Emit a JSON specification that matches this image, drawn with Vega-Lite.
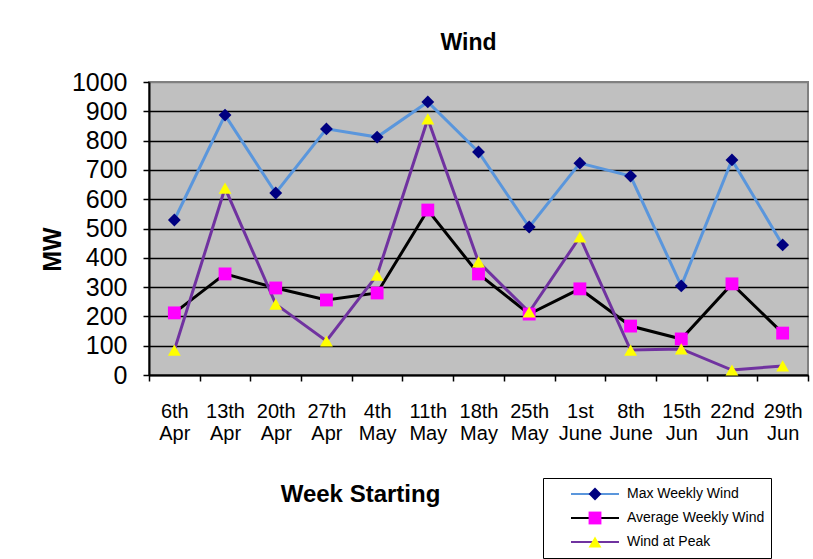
{
  "$schema": "https://vega.github.io/schema/vega-lite/v6.json",
  "width": 659,
  "height": 293,
  "autosize": {"type": "none"},
  "padding": {"left": 149, "top": 82, "right": 5, "bottom": 184},
  "background": "white",
  "title": {"text": "Wind", "font": "Liberation Sans", "fontSize": 23, "fontWeight": "bold", "color": "black", "anchor": "middle", "baseline": "alphabetic", "offset": -3, "dx": -10},
  "config": {
    "font": "Liberation Sans",
    "view": {"fill": "#C0C0C0", "stroke": "#808080", "strokeWidth": 2}
  },
  "datasets": {
    "wind": [
      {"week": "6th Apr", "series": "Max Weekly Wind", "value": 529},
      {"week": "13th Apr", "series": "Max Weekly Wind", "value": 887},
      {"week": "20th Apr", "series": "Max Weekly Wind", "value": 621},
      {"week": "27th Apr", "series": "Max Weekly Wind", "value": 840},
      {"week": "4th May", "series": "Max Weekly Wind", "value": 812},
      {"week": "11th May", "series": "Max Weekly Wind", "value": 932},
      {"week": "18th May", "series": "Max Weekly Wind", "value": 761},
      {"week": "25th May", "series": "Max Weekly Wind", "value": 505},
      {"week": "1st June", "series": "Max Weekly Wind", "value": 723},
      {"week": "8th June", "series": "Max Weekly Wind", "value": 679},
      {"week": "15th Jun", "series": "Max Weekly Wind", "value": 304},
      {"week": "22nd Jun", "series": "Max Weekly Wind", "value": 734},
      {"week": "29th Jun", "series": "Max Weekly Wind", "value": 444},
      {"week": "6th Apr", "series": "Average Weekly Wind", "value": 212},
      {"week": "13th Apr", "series": "Average Weekly Wind", "value": 345},
      {"week": "20th Apr", "series": "Average Weekly Wind", "value": 297},
      {"week": "27th Apr", "series": "Average Weekly Wind", "value": 256},
      {"week": "4th May", "series": "Average Weekly Wind", "value": 280},
      {"week": "11th May", "series": "Average Weekly Wind", "value": 563},
      {"week": "18th May", "series": "Average Weekly Wind", "value": 345},
      {"week": "25th May", "series": "Average Weekly Wind", "value": 208},
      {"week": "1st June", "series": "Average Weekly Wind", "value": 294},
      {"week": "8th June", "series": "Average Weekly Wind", "value": 167},
      {"week": "15th Jun", "series": "Average Weekly Wind", "value": 123},
      {"week": "22nd Jun", "series": "Average Weekly Wind", "value": 311},
      {"week": "29th Jun", "series": "Average Weekly Wind", "value": 143},
      {"week": "6th Apr", "series": "Wind at Peak", "value": 85},
      {"week": "13th Apr", "series": "Wind at Peak", "value": 638},
      {"week": "20th Apr", "series": "Wind at Peak", "value": 242},
      {"week": "27th Apr", "series": "Wind at Peak", "value": 116},
      {"week": "4th May", "series": "Wind at Peak", "value": 341},
      {"week": "11th May", "series": "Wind at Peak", "value": 874},
      {"week": "18th May", "series": "Wind at Peak", "value": 386},
      {"week": "25th May", "series": "Wind at Peak", "value": 215},
      {"week": "1st June", "series": "Wind at Peak", "value": 471},
      {"week": "8th June", "series": "Wind at Peak", "value": 85},
      {"week": "15th Jun", "series": "Wind at Peak", "value": 89},
      {"week": "22nd Jun", "series": "Wind at Peak", "value": 17},
      {"week": "29th Jun", "series": "Wind at Peak", "value": 31}
    ]
  },
  "data": {"name": "wind"},
  "encoding": {
    "x": {
      "field": "week", "type": "nominal", "sort": null,
      "scale": {"paddingInner": 0, "paddingOuter": 0},
      "axis": {
        "title": "Week Starting",
        "titleFont": "Liberation Sans", "titleFontSize": 24, "titleFontWeight": "bold", "titleColor": "black",
        "titleX": 211, "titleY": 119, "titleAlign": "center", "titleBaseline": "middle", "titleAnchor": null,
        "labelAngle": 0, "labelFontSize": 20, "labelColor": "black", "labelLineHeight": 22,
        "labelExpr": "split(datum.label, ' ')", "labelPadding": 20,
        "tickBand": "extent", "tickSize": 6, "tickColor": "black", "tickWidth": 1.5,
        "domainColor": "black", "domainWidth": 2, "grid": false
      }
    },
    "y": {
      "field": "value", "type": "quantitative",
      "scale": {"domain": [0, 1000], "nice": false},
      "axis": {
        "title": "MW",
        "titleFont": "Liberation Sans", "titleFontSize": 25, "titleFontWeight": "bold", "titleColor": "black",
        "titleX": -97, "titleY": 167, "titleAngle": 270, "titleAlign": "center", "titleBaseline": "middle",
        "values": [0, 100, 200, 300, 400, 500, 600, 700, 800, 900, 1000],
        "format": "d",
        "labelFontSize": 25, "labelColor": "black", "labelPadding": 16,
        "tickSize": 6, "tickColor": "black", "tickWidth": 1.5,
        "domainColor": "black", "domainWidth": 2,
        "grid": true,
        "gridColor": {"condition": {"test": "datum.value >= 1000", "value": "#808080"}, "value": "black"},
        "gridWidth": 1.5, "gridOpacity": 1
      }
    }
  },
  "layer": [
    {
      "mark": {"type": "line", "strokeWidth": 3},
      "encoding": {
        "stroke": {
          "field": "series", "type": "nominal",
          "sort": ["Max Weekly Wind", "Average Weekly Wind", "Wind at Peak"],
          "scale": {"range": ["#5A96DC", "#000000", "#7032A0"]},
          "legend": {
            "title": null, "orient": "none", "legendX": 394, "legendY": 396,
            "zindex": 0,
            "fillColor": "white", "strokeColor": "black", "padding": 6,
            "symbolType": "stroke", "symbolSize": 2304, "symbolStrokeWidth": 2,
            "symbolOffset": 21, "clipHeight": 20, "rowPadding": 4,
            "labelFont": "Liberation Sans", "labelFontSize": 14, "labelColor": "black", "labelOffset": 7
          }
        },
        "order": {"value": null}
      }
    },
    {
      "mark": {"type": "point", "filled": true, "opacity": 1, "size": 165, "strokeWidth": 0},
      "encoding": {
        "fill": {
          "field": "series", "type": "nominal",
          "scale": {"domain": ["Max Weekly Wind", "Average Weekly Wind", "Wind at Peak"], "range": ["#000080", "#FF00FF", "#FFFF00"]},
          "legend": {
            "title": null, "orient": "none", "legendX": 394, "legendY": 396,
            "zindex": 1, "padding": 6,
            "symbolSize": 165, "symbolStrokeWidth": 0, "symbolOpacity": 1,
            "symbolOffset": 39, "clipHeight": 20, "rowPadding": 4,
            "labelFontSize": 14, "labelExpr": "''"
          }
        },
        "shape": {
          "field": "series", "type": "nominal",
          "scale": {"domain": ["Max Weekly Wind", "Average Weekly Wind", "Wind at Peak"], "range": ["diamond", "square", "triangle-up"]},
          "legend": {
            "title": null, "orient": "none", "legendX": 394, "legendY": 396,
            "zindex": 1, "padding": 6,
            "symbolSize": 165, "symbolStrokeWidth": 0, "symbolOpacity": 1,
            "symbolOffset": 39, "clipHeight": 20, "rowPadding": 4,
            "labelFontSize": 14, "labelExpr": "''"
          }
        }
      }
    }
  ]
}
